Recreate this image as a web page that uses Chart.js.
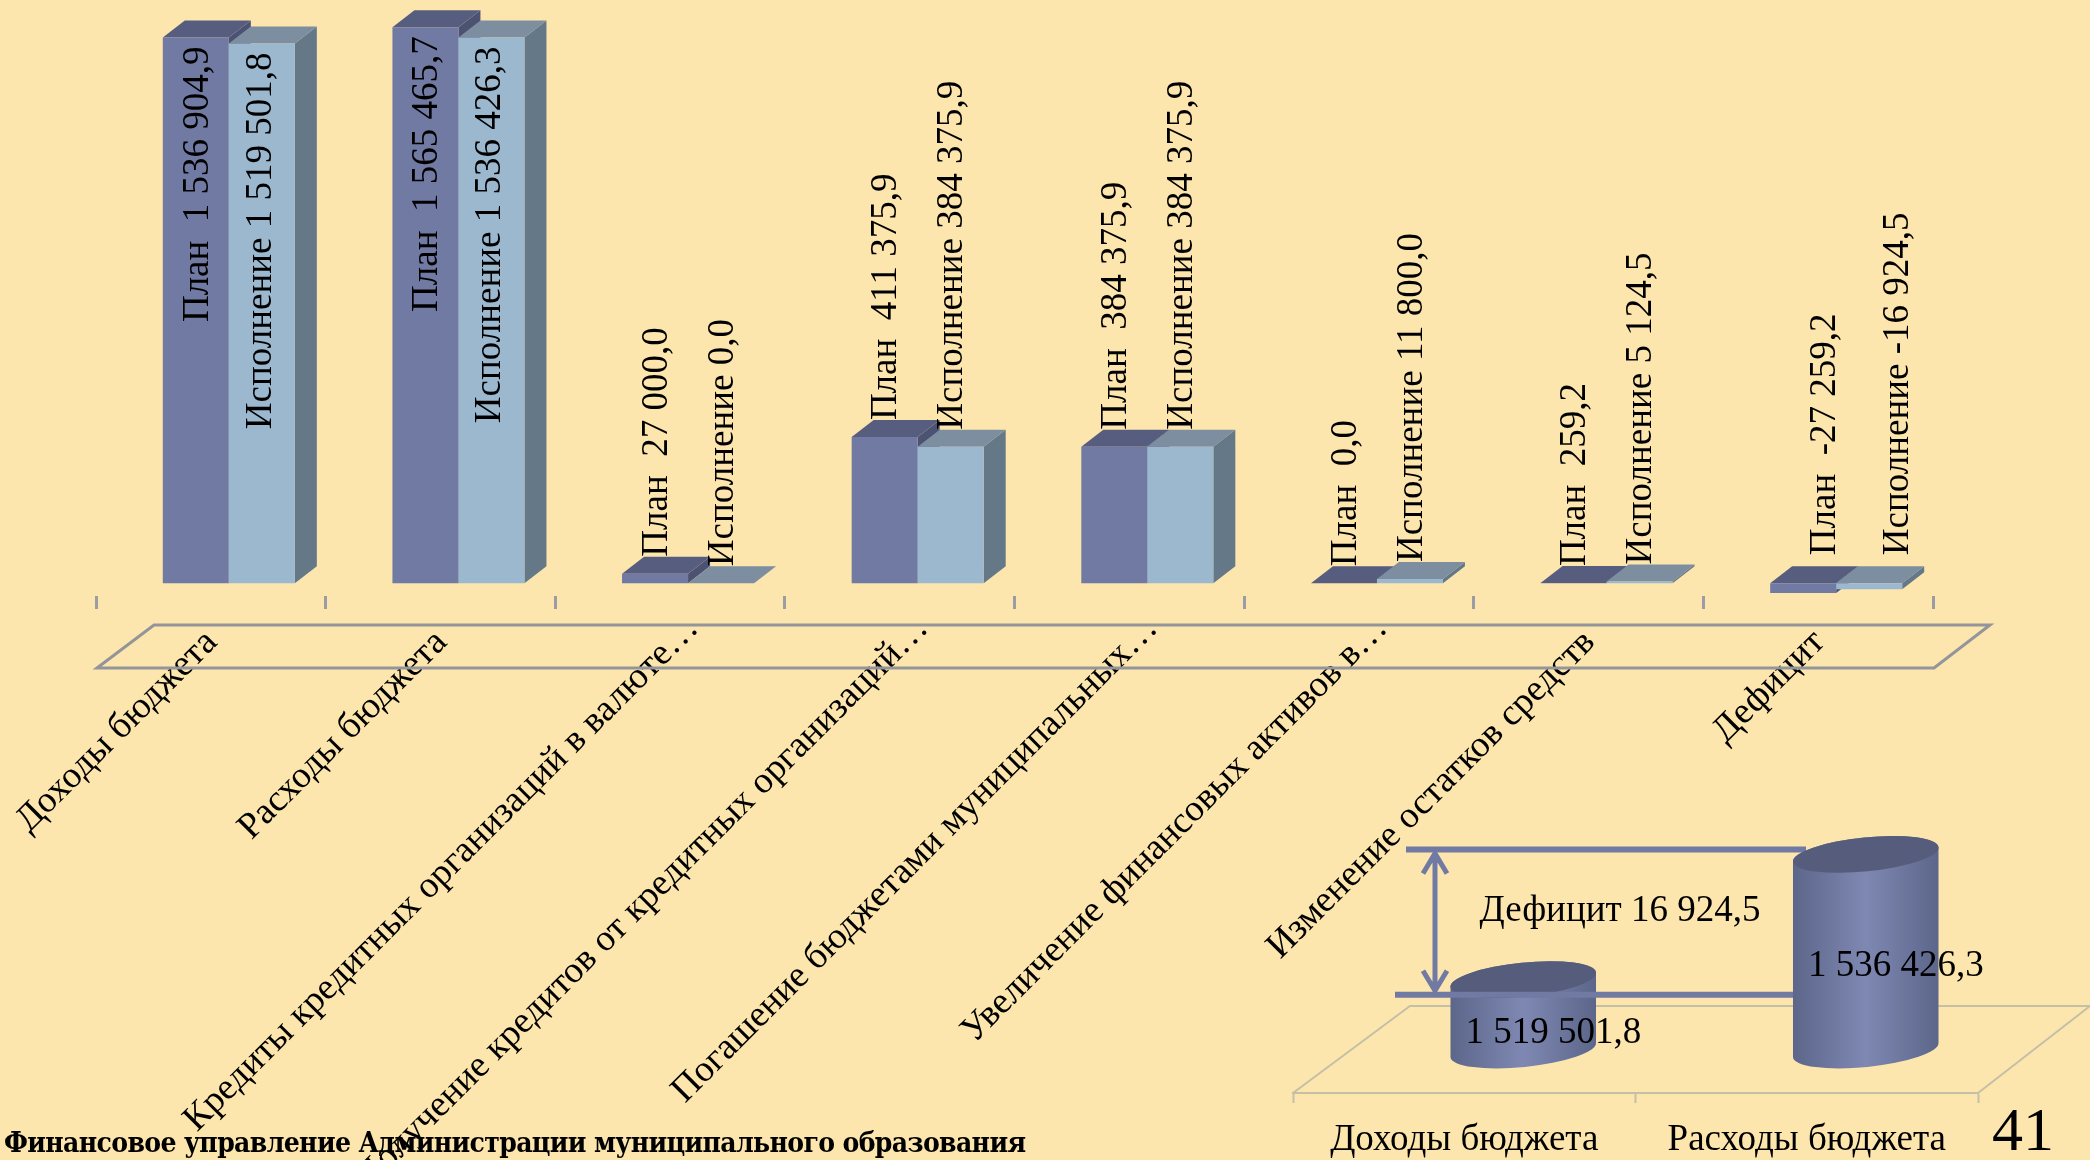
<!DOCTYPE html>
<html lang="ru">
<head>
<meta charset="utf-8">
<title>Исполнение бюджета</title>
<script src="https://cdn.jsdelivr.net/npm/chart.js@4"></script>
<style>
  html, body { margin: 0; width: 2090px; height: 1160px; overflow: hidden; background: #fce6ad; }
  canvas { position: absolute; display: block; }
  #mainChart { left: 0; top: 0; }
  #smallChart { left: 1240px; top: 800px; }
  .note { position: absolute; color: #000; white-space: nowrap; }
  #footer { left: 4px; top: 1126px; font: bold 28px "DejaVu Serif Condensed", "DejaVu Serif", serif; letter-spacing: -0.65px; }
  #pageNo { left: 1992px; top: 1094px; font: 62px "Liberation Serif", serif; }
</style>
</head>
<body>
<canvas id="mainChart" width="2090" height="1160"></canvas>
<canvas id="smallChart" width="850" height="360"></canvas>
<div class="note" id="footer">Финансовое управление Администрации муниципального образования</div>
<div class="note" id="pageNo">41</div>
<script>
const categories = [
  'Доходы бюджета',
  'Расходы бюджета',
  'Кредиты кредитных организаций в валюте…',
  'Получение кредитов от кредитных организаций…',
  'Погашение бюджетами муниципальных…',
  'Увеличение финансовых активов в…',
  'Изменение остатков средств',
  'Дефицит'
];
const planValues = [1536904.9, 1565465.7, 27000, 411375.9, 384375.9, 0, 259.2, -27259.2];
const execValues = [1519501.8, 1536426.3, 0, 384375.9, 384375.9, 11800, 5124.5, -16924.5];

const smallCategories = ['Доходы бюджета', 'Расходы бюджета'];
const smallValues = [1519501.8, 1536426.3];
const deficitText = 'Дефицит 16 924,5';

const SERIF = '"Liberation Serif", serif';

// 1536904.9 -> "1 536 904,9"
function fmt(v) {
  const s = Math.abs(v).toFixed(1).replace('.', ',');
  return (v < 0 ? '-' : '') + s.replace(/\B(?=(\d{3})+,)/g, ' ');
}

const faces = [
  { top: '#575d7e', side: '#4c5272', prefix: 'План  ', inset: 2, negShift: 20 },
  { top: '#7c8e9f', side: '#647888', prefix: 'Исполнение ', inset: -1, negShift: 27 }
];
const depthX = 22, depthY = 17, shiftX = 18;

const bars3d = {
  id: 'bars3d',
  beforeDraw(chart) {
    // the cut labels sit further along the slope than the whole ones
    chart.scales.x.getLabelItems().forEach(item => {
      if (item.label.endsWith('…')) {
        item.options.translation[0] += 22;
        item.options.translation[1] -= 14;
      }
    });
  },
  beforeDatasetsDraw(chart) {
    const ctx = chart.ctx;
    ctx.save();
    ctx.translate(shiftX, 0);
    chart.data.datasets.forEach((ds, i) => {
      const meta = chart.getDatasetMeta(i);
      meta.data.forEach(bar => {
        const l = bar.x - bar.width / 2, r = bar.x + bar.width / 2;
        const t = Math.min(bar.y, bar.base), b = Math.max(bar.y, bar.base);
        ctx.fillStyle = faces[i].side;
        ctx.beginPath();
        ctx.moveTo(r, t); ctx.lineTo(r + depthX, t - depthY);
        ctx.lineTo(r + depthX, b - depthY); ctx.lineTo(r, b);
        ctx.fill();
        ctx.fillStyle = faces[i].top;
        ctx.beginPath();
        ctx.moveTo(l, t); ctx.lineTo(l + depthX, t - depthY);
        ctx.lineTo(r + depthX, t - depthY); ctx.lineTo(r, t);
        ctx.fill();
      });
      meta.controller.draw();
    });
    ctx.restore();
    return false;
  },
  afterDraw(chart) {
    const ctx = chart.ctx, area = chart.chartArea;
    // floor under the axis
    ctx.save();
    ctx.strokeStyle = '#94959a';
    ctx.lineWidth = 3;
    ctx.beginPath();
    ctx.moveTo(area.left + 1, area.bottom + 72);
    ctx.lineTo(area.left + 58, area.bottom + 29);
    ctx.lineTo(area.right + 57, area.bottom + 29);
    ctx.lineTo(area.right + 1, area.bottom + 72);
    ctx.closePath();
    ctx.stroke();
    // value labels
    ctx.font = '37px ' + SERIF;
    ctx.fillStyle = '#000';
    ctx.textBaseline = 'middle';
    chart.data.datasets.forEach((ds, i) => {
      chart.getDatasetMeta(i).data.forEach((bar, k) => {
        const v = ds.data[k];
        const text = faces[i].prefix + fmt(v);
        const width = ctx.measureText(text).width;
        const inside = bar.base - bar.y > width + 20;
        let y, x = bar.x + shiftX + 2;
        if (inside) {
          y = bar.y + 9 + width;
          x = bar.x + shiftX + faces[i].inset;
        } else {
          y = Math.min(bar.y, bar.base) - depthY - (v < 0 ? 11 : 0);
          if (v < 0) x += faces[i].negShift;
        }
        ctx.save();
        ctx.translate(x, y);
        ctx.rotate(-Math.PI / 2);
        ctx.textAlign = 'left';
        ctx.fillText(text, 0, 0);
        ctx.restore();
      });
    });
    ctx.restore();
  }
};

new Chart(document.getElementById('mainChart'), {
  type: 'bar',
  data: {
    labels: categories,
    datasets: [
      { label: 'План', data: planValues, backgroundColor: '#717aa3', categoryPercentage: 0.575, barPercentage: 1 },
      { label: 'Исполнение', data: execValues, backgroundColor: '#9cb8cf', categoryPercentage: 0.575, barPercentage: 1 }
    ]
  },
  options: {
    responsive: false,
    animation: false,
    layout: { autoPadding: false, padding: { left: 96, right: 157, top: 15, bottom: 0 } },
    plugins: { legend: { display: false }, tooltip: { enabled: false } },
    scales: {
      x: {
        afterFit(scale) { scale.height = 564; },
        grid: { drawOnChartArea: false, tickLength: 13, tickColor: '#9a9da3', tickWidth: 3 },
        border: { display: false },
        ticks: {
          autoSkip: false, minRotation: 45, maxRotation: 45, padding: 12, labelOffset: 1,
          font: { family: SERIF, size: 37 }, color: '#000'
        }
      },
      y: { display: false, min: -36000, max: 1600000 }
    }
  },
  plugins: [bars3d]
});

const cylinders = {
  id: 'cylinders',
  afterDatasetsDraw(chart) {
    const ctx = chart.ctx, area = chart.chartArea, y = chart.scales.y;
    const bars = chart.getDatasetMeta(0).data;
    const dx = 59, dy = -43, rot = -0.1, ry = 17;

    ctx.save();
    // floor
    ctx.strokeStyle = '#c4c0a6';
    ctx.lineWidth = 2;
    ctx.beginPath();
    ctx.moveTo(area.left, area.bottom);
    ctx.lineTo(area.left + 117, area.bottom - 87);
    ctx.lineTo(area.right + 112, area.bottom - 87);
    ctx.lineTo(area.right, area.bottom);
    ctx.stroke();

    const drawCyl = bar => {
      const cx = bar.x + dx, rx = bar.width / 2;
      const ty = bar.y + dy, by = area.bottom + dy;
      const g = ctx.createLinearGradient(cx - rx, 0, cx + rx, 0);
      g.addColorStop(0, '#5c668a');
      g.addColorStop(0.5, '#7f88b2');
      g.addColorStop(1, '#5c668a');
      ctx.fillStyle = g;
      ctx.beginPath();
      ctx.ellipse(cx, by, rx, ry, rot, 0, Math.PI);
      ctx.ellipse(cx, ty, rx, ry, rot, Math.PI, Math.PI * 2);
      ctx.closePath();
      ctx.fill();
      ctx.fillStyle = '#565c7c';
      ctx.beginPath();
      ctx.ellipse(cx, ty, rx, ry, rot, 0, Math.PI * 2);
      ctx.fill();
    };

    drawCyl(bars[0]);

    // bracket between the two totals
    const upper = y.getPixelForValue(smallValues[1]) - 48;
    const lower = y.getPixelForValue(smallValues[0]) - 28;
    const ax = area.left + 142;
    ctx.strokeStyle = '#717aa3';
    ctx.lineWidth = 6;
    ctx.beginPath();
    ctx.moveTo(area.left + 113, upper); ctx.lineTo(area.left + 513, upper);
    ctx.moveTo(area.left + 102, lower); ctx.lineTo(area.left + 503, lower);
    ctx.stroke();
    ctx.lineWidth = 5;
    ctx.beginPath();
    ctx.moveTo(ax, upper + 3); ctx.lineTo(ax, lower - 3);
    ctx.moveTo(ax - 12, upper + 24); ctx.lineTo(ax, upper + 4); ctx.lineTo(ax + 12, upper + 24);
    ctx.moveTo(ax - 12, lower - 24); ctx.lineTo(ax, lower - 4); ctx.lineTo(ax + 12, lower - 24);
    ctx.stroke();

    drawCyl(bars[1]);

    ctx.fillStyle = '#000';
    ctx.font = '37px ' + SERIF;
    ctx.textAlign = 'center';
    ctx.textBaseline = 'middle';
    ctx.fillText(deficitText, ax + 185, upper + 62);
    bars.forEach((bar, i) => {
      const mid = (bar.y + area.bottom) / 2 + dy;
      ctx.fillText(fmt(smallValues[i]), bar.x + dx + 30, mid + (i === 0 ? 18 : 14));
    });
    ctx.restore();
  }
};

new Chart(document.getElementById('smallChart'), {
  type: 'bar',
  data: {
    labels: smallCategories,
    datasets: [{
      label: 'Исполнение', data: smallValues,
      backgroundColor: 'transparent', categoryPercentage: 1, barPercentage: 0.427
    }]
  },
  options: {
    responsive: false,
    animation: false,
    layout: { autoPadding: false, padding: { left: 53, right: 112, top: 71, bottom: 0 } },
    plugins: { legend: { display: false }, tooltip: { enabled: false } },
    scales: {
      x: {
        afterFit(scale) { scale.height = 67; },
        grid: { drawOnChartArea: false, tickLength: 10, tickColor: '#c4c0a6', tickWidth: 2 },
        border: { display: true, color: '#c4c0a6', width: 2 },
        ticks: {
          autoSkip: false, minRotation: 0, maxRotation: 0, padding: 15,
          font: { family: SERIF, size: 37 }, color: '#000'
        }
      },
      y: { display: false, min: 1510000, max: 1540000 }
    }
  },
  plugins: [cylinders]
});
</script>
</body>
</html>
